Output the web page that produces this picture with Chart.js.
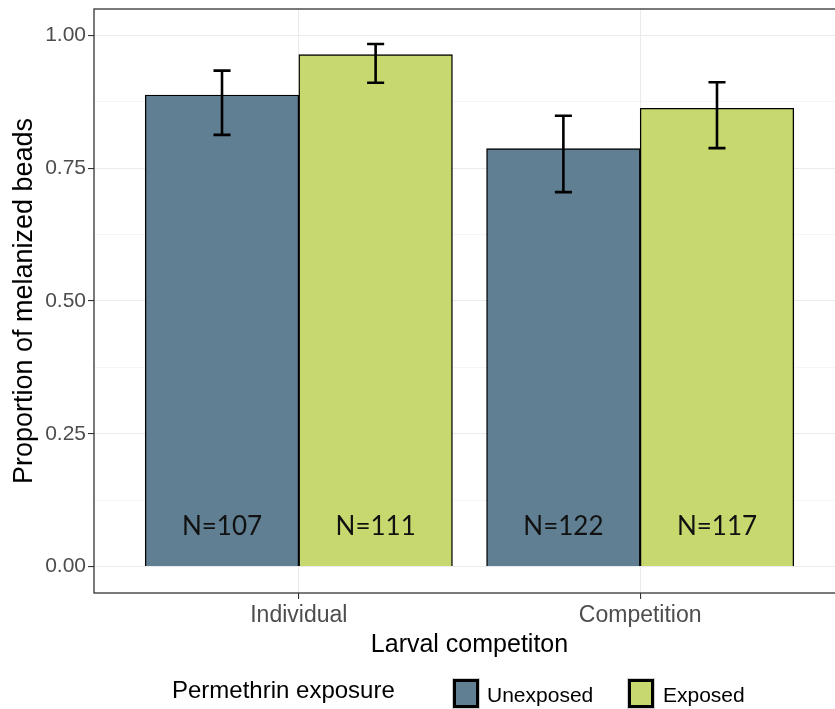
<!DOCTYPE html>
<html>
<head>
<meta charset="utf-8">
<script src="https://cdn.jsdelivr.net/npm/chart.js@4.4.1/dist/chart.umd.min.js"></script>
<style>
  html, body { margin: 0; padding: 0; overflow: hidden; background: #ffffff; }
  #wrap { width: 860px; height: 709px; }
</style>
</head>
<body>
<div id="wrap"><canvas id="c" width="860" height="709"></canvas></div>
<script>
// Melanization proportions by larval competition and permethrin exposure
const categories = ['Individual', 'Competition'];
const seriesNames = ['Unexposed', 'Exposed'];

const unexposedMean  = [0.888, 0.787];
const unexposedLower = [0.813, 0.705];
const unexposedUpper = [0.934, 0.849];
const unexposedN     = [107, 122];

const exposedMean  = [0.964, 0.863];
const exposedLower = [0.911, 0.788];
const exposedUpper = [0.984, 0.912];
const exposedN     = [111, 117];

const yMajorTicks = [0, 0.25, 0.5, 0.75, 1.0];
const yMinorTicks = [0.125, 0.375, 0.625, 0.875];

const FONT = 'Liberation Sans';
const COLORS = ['#607F93', '#C6D86E'];
const DODGE = 0.225;        // half of a 0.45-wide bar
const CAP_HALF = 0.025;     // half width of error bar caps (x units)
const N_LABEL_Y = 0.075;    // height at which sample sizes are written

const isMajor = v => Math.abs(v * 4 - Math.round(v * 4)) < 1e-6;
const dodged = (means, side) => means.map((m, i) => ({ x: i + 1 + side * DODGE, y: m }));

const errorBars = {
  id: 'errorBars',
  afterDatasetsDraw(chart) {
    const { ctx, scales: { x, y } } = chart;
    const capPx = x.getPixelForValue(1 + CAP_HALF) - x.getPixelForValue(1);
    ctx.save();
    ctx.strokeStyle = '#000000';
    ctx.lineWidth = 2.6;
    chart.data.datasets.forEach((ds, di) => {
      const meta = chart.getDatasetMeta(di);
      meta.data.forEach((bar, i) => {
        const yl = y.getPixelForValue(ds.lower[i]);
        const yu = y.getPixelForValue(ds.upper[i]);
        ctx.beginPath();
        ctx.moveTo(bar.x, yl); ctx.lineTo(bar.x, yu);
        ctx.moveTo(bar.x - capPx, yu); ctx.lineTo(bar.x + capPx, yu);
        ctx.moveTo(bar.x - capPx, yl); ctx.lineTo(bar.x + capPx, yl);
        ctx.stroke();
      });
    });
    // sample sizes inside the bars
    ctx.fillStyle = '#111111';
    ctx.font = '26px Lato';
    ctx.textAlign = 'center';
    ctx.textBaseline = 'middle';
    chart.data.datasets.forEach((ds, di) => {
      const meta = chart.getDatasetMeta(di);
      meta.data.forEach((bar, i) => {
        ctx.fillText('N=' + ds.counts[i], bar.x, y.getPixelForValue(N_LABEL_Y));
      });
    });
    ctx.restore();
  }
};

const panelAndLegend = {
  id: 'panelAndLegend',
  afterDraw(chart) {
    const { ctx, chartArea: a } = chart;
    ctx.save();
    ctx.strokeStyle = '#333333';
    ctx.lineWidth = 1.3;
    ctx.strokeRect(a.left, a.top, a.right - a.left, a.bottom - a.top);

    // legend
    ctx.fillStyle = '#000000';
    ctx.textAlign = 'left';
    ctx.textBaseline = 'alphabetic';
    ctx.font = '24px ' + FONT;
    ctx.fillText('Permethrin exposure', 172, 698);

    const keys = [{ x: 453, tx: 487 }, { x: 628, tx: 663 }];
    keys.forEach((k, i) => {
      ctx.strokeStyle = '#CFCFCF';
      ctx.lineWidth = 1;
      ctx.strokeRect(k.x - 0.5, 678.5, 27, 30);
      ctx.fillStyle = COLORS[i];
      ctx.fillRect(k.x + 1, 680, 24, 27);
      ctx.strokeStyle = '#000000';
      ctx.lineWidth = 3;
      ctx.strokeRect(k.x + 1.5, 680.5, 23, 26);
      ctx.fillStyle = '#000000';
      ctx.font = '21px ' + FONT;
      ctx.fillText(seriesNames[i], k.tx, 702);
    });
    ctx.restore();
  }
};

new Chart(document.getElementById('c'), {
  type: 'bar',
  data: {
    datasets: [
      {
        label: seriesNames[0],
        data: dodged(unexposedMean, -1),
        lower: unexposedLower, upper: unexposedUpper, counts: unexposedN,
        backgroundColor: COLORS[0]
      },
      {
        label: seriesNames[1],
        data: dodged(exposedMean, 1),
        lower: exposedLower, upper: exposedUpper, counts: exposedN,
        backgroundColor: COLORS[1]
      }
    ]
  },
  options: {
    responsive: false,
    animation: false,
    events: [],
    layout: { padding: { top: 9, left: 0, right: 15, bottom: 49 } },
    datasets: {
      bar: {
        grouped: false,
        categoryPercentage: 1,
        barPercentage: 1,
        borderColor: '#000000',
        borderWidth: 1.4
      }
    },
    plugins: { legend: { display: false }, tooltip: { enabled: false } },
    scales: {
      x: {
        type: 'linear',
        min: 0.4, max: 2.6,
        offset: false,
        afterBuildTicks: s => { s.ticks = categories.map((c, i) => ({ value: i + 1 })); },
        afterFit: s => { s.height = 67; s.paddingLeft = 0; s.paddingRight = 0; },
        ticks: {
          callback: v => categories[Math.round(v) - 1] || '',
          color: '#4D4D4D',
          font: { family: FONT, size: 23 },
          padding: 3,
          maxRotation: 0,
          autoSkip: false
        },
        grid: { offset: false, color: '#EBEBEB', lineWidth: 1.1, tickLength: 6, tickColor: '#333333', tickWidth: 1.1 },
        border: { display: false },
        title: {
          display: true,
          text: 'Larval competiton',
          color: '#000000',
          font: { family: FONT, size: 25 },
          padding: { top: 0, bottom: 0 }
        }
      },
      y: {
        min: -0.05, max: 1.05,
        afterBuildTicks: s => {
          s.ticks = [...yMajorTicks, ...yMinorTicks].sort((a, b) => a - b).map(v => ({ value: v }));
        },
        afterFit: s => { s.width = 94; s.paddingTop = 0; s.paddingBottom = 0; },
        ticks: {
          callback: v => isMajor(v) ? v.toFixed(2) : '',
          color: '#4D4D4D',
          font: { family: FONT, size: 21 },
          padding: 2,
          autoSkip: false
        },
        grid: {
          color: c => (c.tick && !isMajor(c.tick.value)) ? '#F3F3F3' : '#EBEBEB',
          lineWidth: c => (c.tick && !isMajor(c.tick.value)) ? 0.8 : 1.1,
          tickLength: 6,
          tickColor: c => (c.tick && !isMajor(c.tick.value)) ? 'rgba(0,0,0,0)' : '#333333',
          tickWidth: 1.1
        },
        border: { display: false },
        title: {
          display: true,
          text: 'Proportion of melanized beads',
          color: '#000000',
          font: { family: FONT, size: 27 },
          padding: { top: 8, bottom: 0 }
        }
      }
    }
  },
  plugins: [errorBars, panelAndLegend]
});
</script>
</body>
</html>
